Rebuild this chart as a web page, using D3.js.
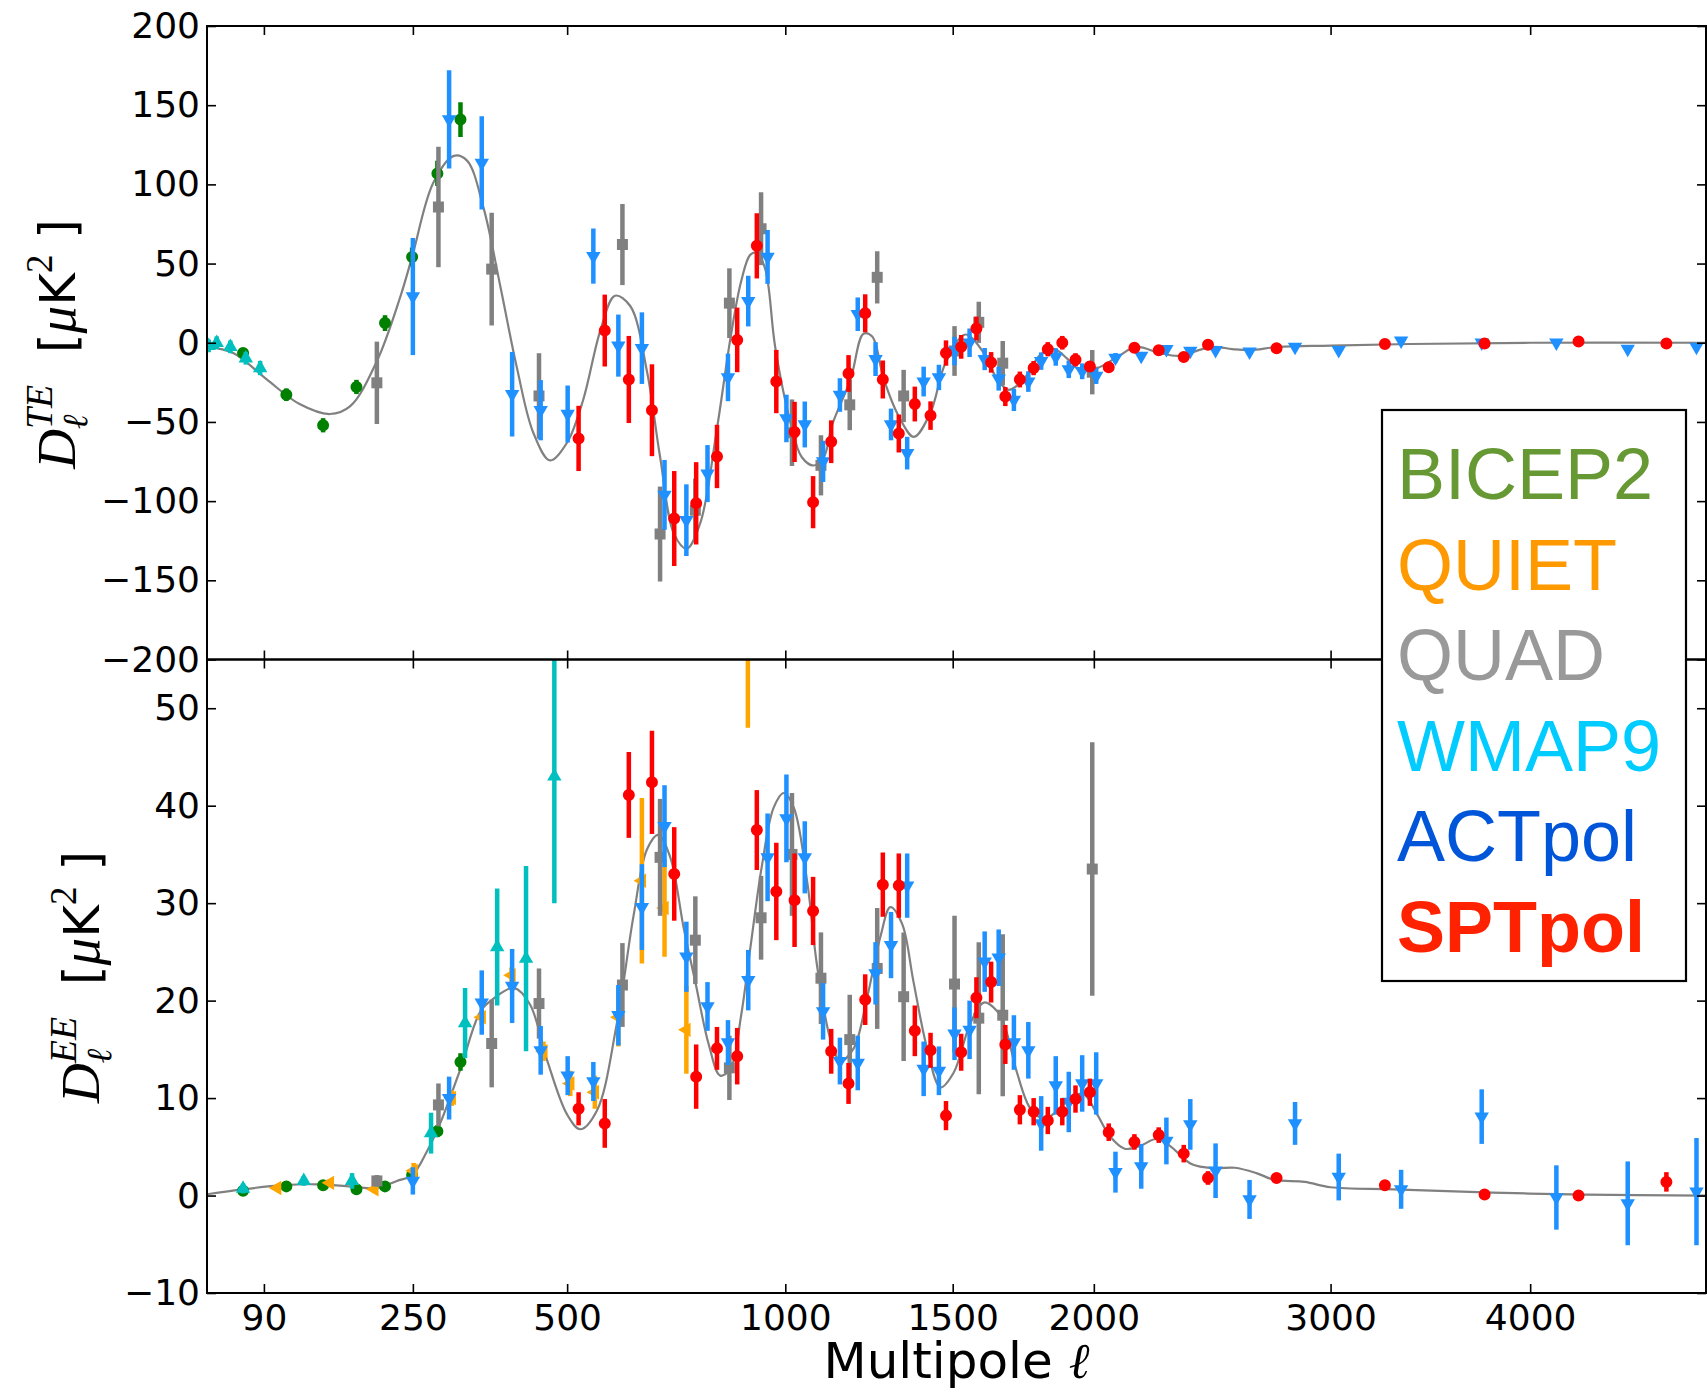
<!DOCTYPE html>
<html>
<head>
<meta charset="utf-8">
<script src="https://cdn.jsdelivr.net/npm/d3@7"></script>
<style>
  body { margin: 0; background: #fff; }
  svg { display: block; background: #fff; }
  .tick text { font-family: "DejaVu Sans", sans-serif; font-size: 36px; fill: #000; }
  .tick line { stroke: #000; stroke-width: 1.6; }
</style>
</head>
<body>
<svg id="chart" width="1707" height="1392"></svg>
<script>
// tick values
const ellTicks = [90, 250, 500, 1000, 1500, 2000, 3000, 4000];
const teTicks = [-200, -150, -100, -50, 0, 50, 100, 150, 200];
const eeTicks = [-10, 0, 10, 20, 30, 40, 50];

// legend
const legendNames = ['BICEP2', 'QUIET', 'QUAD', 'WMAP9', 'ACTpol', 'SPTpol'];
const legendColors = ['#669933', '#ff9900', '#999999', '#00ccff', '#0055d8', '#ff2200'];

// TE points: [ell, D_ell, error]
const bicepTE = [[74,-6.5,3],[109,-32.8,4],[144,-52.1,4.5],[180,-27.9,4.5],[214,12.4,5],[249,54.2,6],[284,106.9,8],[318,140.9,11]];
const quadTE = [[204,-25.3,26],[285.5,85.7,38],[367,46.5,35.6],[448,-33.6,27],[610.5,62,25.6],[692,-120.8,30],[773,-105.8,20],[855.5,25,22],[936,72,23],[1018,-56.8,21],[1098,-77.4,19],[1180.5,-39.2,16],[1262,41.3,16.5],[1343,-33.6,16.5],[1506,-5.2,15.7],[1587,12.9,13],[1669,-12.9,14],[1994,-18.6,14]];
const wmapTE = [[51,-2,4],[56,0,4],[65,-2.6,4],[76,-9.8,4],[87,-16,4.5]];
const actTE = [[250,29.2,37],[301,141,31],[351,113.6,29.4],[401,-32.5,26.7],[451,-42.6,19],[501,-45,18],[551,54.7,17.4],[602,-1.8,19.6],[652,-3.4,22.6],[702,-96,22],[752,-112,22.6],[802,-82.6,18],[852,-21.9,15],[903,26.3,16],[953,54.2,17],[1003,-47.8,15],[1053,-51.6,14.5],[1104,-74.9,13],[1152,-33,10.6],[1204,18,10.6],[1257,-10.3,10.7],[1304,-51.6,10],[1354,-69.7,10.3],[1406,-24.5,9.4],[1455,-21.9,8],[1506,-5.2,9],[1556,0,9],[1607,-10.3,7],[1655,-22.7,7.5],[1708,-36.1,7],[1759,-24.5,6.5],[1805,-11.6,5.5],[1858,-9,5.5],[1906,-16.8,5.5],[1956,-18,5],[2009,-21,5],[2083,-9.5,3],[2184,-8.3,2.5],[2285,-4.1,2],[2383,-5.2,2],[2489,-4.7,2],[2635,-5.7,1.5],[2837,-2.6,1.5],[3038,-4.7,1.5],[3337,1.3,1.5],[3744,0,1],[4142,0,1],[4541,-3.9,1],[4943,-2.6,1]];
const sptTE = [[522,-60.4,20.6],[574,7.7,22.7],[624,-23.2,27.5],[674,-42.6,29],[724,-111,30],[775,-101.4,26],[825,-71.8,20],[875,1.8,20.4],[925,61.2,20.6],[976,-24.5,20],[1025,-56.3,19],[1076,-100.7,16.5],[1127,-62.5,13.5],[1177,-19.4,11.6],[1226,18.6,12],[1279,-23.2,12],[1328,-57.3,12],[1378,-38.7,11],[1428,-46,9],[1478,-6.5,8],[1528,-2.6,7.5],[1579,9,7.5],[1629,-12.4,6.5],[1678,-34,6],[1729,-23.2,5],[1778,-16,4.5],[1829,-4.1,4.5],[1882,0,4.3],[1931,-10.8,4.2],[1985,-15,3.5],[2057,-15.5,3],[2157,-3.1,2.5],[2254,-4.7,2.2],[2356,-9,2],[2457,-1.3,2],[2754,-3.4,1.5],[3258,-0.8,1],[3759,-0.5,1],[4264,0.8,1],[4765,-0.5,1]];

// EE points: [ell, D_ell, error]
const bicepEE = [[74,0.5,0.3],[109,0.94,0.4],[144,1.06,0.4],[180,0.64,0.4],[214,0.94,0.4],[249,2.1,0.5],[284,6.6,0.6],[318,13.7,0.9]];
const quietEE = [[101,0.77,0.3],[151,1.3,0.4],[201,0.64,0.4],[251,2.55,0.8],[305,10,0.8],[351,18.3,0.8],[400,22.6,0.8],[456,14.8,1],[506,11.5,1.3],[554,10.6,1.7],[602,18.3,3],[652,32.3,8.5],[702,29.5,5],[752,17,4.5],[902,62,14]];
const quadEE = [[204,1.5,0.6],[285.5,9.3,2.2],[367,15.6,4.5],[448,19.7,3.6],[610.5,21.6,4.3],[692,34.7,6],[773,26.2,4.5],[855.5,13.1,3.3],[936,28.5,4.3],[1018,35,6.3],[1098,22.3,4.7],[1180.5,16,4.6],[1262,23.3,6.2],[1343,20.4,6.6],[1506,21.7,7],[1587,18.2,7.8],[1669,18.5,8.3],[1994,33.5,13]];
const wmapEE = [[74,0.72,0.5],[125,1.5,0.5],[175,1.5,0.8],[275,6.4,2.1],[325,17.7,3.6],[376,25.5,6],[425,24.3,9.5],[476,43,13]];
const actEE = [[250,1.5,1.4],[301,10,2.2],[351,19.8,3.3],[401,21.5,3.8],[451,14.9,2.5],[501,12.3,2],[551,11.7,2],[602,18.5,3.1],[652,29.6,4.4],[702,37.9,4.2],[752,24.5,3.6],[802,19.4,2.5],[852,15.7,2.3],[903,22.1,3.1],[953,34.7,4.5],[1003,38.7,4.5],[1053,34.7,3.7],[1104,18.9,2.9],[1152,13.8,2.4],[1204,13.6,2.8],[1257,22.8,3.2],[1304,25.7,3.4],[1354,31.8,3.3],[1406,13,2.8],[1455,12.8,2.5],[1506,16.6,2.7],[1556,17,3],[1607,24,3.1],[1655,24.4,2.9],[1708,15.7,2.8],[1759,14.9,2.9],[1805,7.4,2.8],[1858,11.3,3],[1906,9.6,3.1],[1956,11.5,2.9],[2009,11.5,3.2],[2083,2.4,2.1],[2184,3,2.3],[2285,5.6,2.4],[2383,7.3,2.6],[2489,2.55,2.8],[2635,-0.4,2],[2837,7.4,2.2],[3038,1.9,2.4],[3337,0.64,2],[3744,8.1,2.8],[4142,-0.2,3.3],[4541,-0.8,4.3],[4943,0.4,5.5]];
const sptEE = [[522,8.9,1.7],[574,7.4,2.5],[624,41.1,4.4],[674,42.4,5.3],[724,33,4.8],[775,12.2,3.3],[825,15.1,2.2],[875,14.3,2.9],[925,37.5,4.1],[976,31.2,5],[1025,30.3,4.8],[1076,29.2,3.5],[1127,14.8,2.3],[1177,11.5,2.1],[1226,20.1,2.6],[1279,31.9,3.3],[1328,31.8,3.3],[1378,16.9,2.6],[1428,14.9,1.8],[1478,8.2,1.5],[1528,14.7,1.9],[1579,20.3,2.1],[1629,21.9,2.1],[1678,15.5,2],[1729,8.8,1.5],[1778,8.6,1.4],[1829,7.7,1.4],[1882,8.6,1.4],[1931,9.9,1.4],[1985,10.6,1.4],[2057,6.5,0.9],[2157,5.5,0.8],[2254,6.2,0.8],[2356,4.3,0.9],[2457,1.8,0.7],[2754,1.8,0.4],[3258,1.06,0.4],[3759,0.1,0.4],[4264,0,0.5],[4765,1.4,1]];

// best-fit model curves: [ell, D_ell]
const theoryTE = [[50,-2.6],[67,-6.5],[92,-23],[121,-38.7],[151,-45],[173,-40],[204,-11.6],[233,28.4],[249,54.2],[278,100.8],[308,118],[328,115],[354,85],[381,36],[409,-15.5],[438,-57],[468,-74.3],[500,-63],[531,-36],[565,7.7],[595,29.7],[627,23.2],[663,-18],[692,-72],[724,-121],[753,-130],[785,-113.6],[825,-54],[858,2.6],[885,38.8],[908,55.5],[925,56.8],[947,46.5],[973,-2.6],[1014,-50.4],[1045,-72.3],[1078,-77.5],[1106,-72.3],[1130,-51.7],[1183,-23],[1221,5.7],[1247,3.9],[1282,-23],[1328,-46.5],[1375,-59.4],[1428,-44],[1476,-13],[1542,5.2],[1604,-6.5],[1650,-23],[1690,-29.7],[1743,-23],[1800,-8],[1850,-3.9],[1900,-10],[1950,-17.6],[2013,-16],[2090,-9],[2164,-2.6],[2258,-6.5],[2337,-8.3],[2436,-3.9],[2485,-2.6],[2560,-4],[2638,-4.7],[2762,-2.6],[3000,-1.8],[3380,-0.8],[4000,0],[5000,0]];
const theoryEE = [[50,0.13],[74,0.64],[106,1.06],[138,1.15],[173,0.94],[204,0.77],[229,1.5],[249,2.1],[269,4.5],[288,7.4],[318,13],[349,18.9],[370,20.2],[404,21.3],[432,19.6],[462,14],[500,8.3],[525,6.8],[558,8.7],[599,17.7],[634,28.7],[663,35.5],[688,37],[715,34.7],[746,27.4],[773,21.9],[805,15.5],[833,12.3],[858,13],[885,18.5],[908,25.3],[938,33.8],[969,39.8],[996,41.3],[1023,39.8],[1060,32.1],[1087,23.6],[1125,16],[1153,13.8],[1192,15.1],[1231,20.2],[1272,26.6],[1302,29.6],[1338,27.9],[1374,21.9],[1417,15.1],[1460,11.1],[1503,12.6],[1559,17.7],[1604,19.8],[1650,18.9],[1678,17.2],[1719,12.6],[1767,8.9],[1815,7.9],[1864,8.7],[1919,10.2],[1962,10.4],[2013,8.3],[2064,6],[2119,4.8],[2180,5.1],[2244,5.8],[2299,5.1],[2390,3.2],[2488,2.8],[2571,2.85],[2665,2.3],[2746,1.6],[2881,1.4],[3000,0.85],[3300,0.64],[3800,0.3],[4300,0.1],[5000,0]];

const L = 207, R = 1706, T = 26, M = 659.5, B = 1293;

const svg = d3.select('#chart');

const x = d3.scalePow().exponent(0.5).domain([50, 5000]).range([L, R]);
const yTE = d3.scaleLinear().domain([-200, 200]).range([M, T]);
const yEE = d3.scaleLinear().domain([-10, 55]).range([B, M]);

const defs = svg.append('defs');
defs.append('clipPath').attr('id', 'clipTE').append('rect')
    .attr('x', L).attr('y', T).attr('width', R - L).attr('height', M - T);
defs.append('clipPath').attr('id', 'clipEE').append('rect')
    .attr('x', L).attr('y', M).attr('width', R - L).attr('height', B - M);

function drawAxes(y, top, bottom, yTicks, showX) {
    svg.append('g').attr('transform', `translate(${L},0)`)
        .call(d3.axisLeft(y).tickValues(yTicks).tickSize(-9).tickPadding(7))
        .call(g => g.select('.domain').remove());
    svg.append('g').attr('transform', `translate(${R},0)`)
        .call(d3.axisRight(y).tickValues(yTicks).tickSize(-9).tickFormat(''))
        .call(g => g.select('.domain').remove());
    svg.append('g').attr('transform', `translate(0,${top})`)
        .call(d3.axisTop(x).tickValues(ellTicks).tickSize(-9).tickFormat(''))
        .call(g => g.select('.domain').remove());
    const bx = d3.axisBottom(x).tickValues(ellTicks).tickSize(-9).tickPadding(11)
        .tickFormat(showX ? d3.format('d') : '');
    svg.append('g').attr('transform', `translate(0,${bottom})`)
        .call(bx)
        .call(g => g.select('.domain').remove());
    svg.append('rect').attr('x', L).attr('y', top).attr('width', R - L).attr('height', bottom - top)
        .attr('fill', 'none').attr('stroke', '#000').attr('stroke-width', 2);
}

const shapes = {
    circle: { type: d3.symbolCircle, size: 113, rot: 0 },
    square: { type: d3.symbolSquare, size: 121, rot: 0 },
    up: { type: d3.symbolTriangle, size: 90, rot: 0 },
    down: { type: d3.symbolTriangle, size: 90, rot: 180 },
    left: { type: d3.symbolTriangle, size: 90, rot: -90 }
};

function drawSeries(g, data, y, color, shape) {
    g.selectAll(null).data(data).enter().append('line')
        .attr('x1', d => x(d[0])).attr('x2', d => x(d[0]))
        .attr('y1', d => y(d[1] - d[2])).attr('y2', d => y(d[1] + d[2]))
        .attr('stroke', color).attr('stroke-width', 4.5);
    const s = shapes[shape];
    g.selectAll(null).data(data).enter().append('path')
        .attr('d', d3.symbol().type(s.type).size(s.size))
        .attr('transform', d => `translate(${x(d[0])},${y(d[1])}) rotate(${s.rot})`)
        .attr('fill', color);
}

function drawPanel(clip, y, theory, series) {
    const g = svg.append('g').attr('clip-path', `url(#${clip})`);
    g.append('path').datum(theory)
        .attr('d', d3.line().x(d => x(d[0])).y(d => y(d[1])).curve(d3.curveCatmullRom.alpha(0.5)))
        .attr('fill', 'none').attr('stroke', '#808080').attr('stroke-width', 2.2);
    series.forEach(s => drawSeries(g, s[0], y, s[1], s[2]));
}

drawPanel('clipTE', yTE, theoryTE, [
    [bicepTE, '#008000', 'circle'],
    [quadTE, '#808080', 'square'],
    [wmapTE, '#00bfbf', 'up'],
    [actTE, '#1e90ff', 'down'],
    [sptTE, '#ff0000', 'circle']
]);
drawPanel('clipEE', yEE, theoryEE, [
    [bicepEE, '#008000', 'circle'],
    [quietEE, '#ffa500', 'left'],
    [quadEE, '#808080', 'square'],
    [wmapEE, '#00bfbf', 'up'],
    [actEE, '#1e90ff', 'down'],
    [sptEE, '#ff0000', 'circle']
]);

drawAxes(yTE, T, M, teTicks, false);
drawAxes(yEE, M, B, eeTicks, true);

// text made of pieces (math style labels)
function pieceLabel(parent, pieces) {
    const inner = parent.append('g');
    let cx = 0, lastStart = 0;
    pieces.forEach(p => {
        const start = p.stack ? lastStart : cx;
        const t = inner.append('text')
            .attr('x', start).attr('y', p.dy || 0)
            .attr('font-family', p.fam).attr('font-size', p.size)
            .attr('font-style', p.it ? 'italic' : 'normal')
            .attr('fill', '#000')
            .text(p.t);
        const w = t.node().getComputedTextLength();
        if (p.stack) cx = Math.max(cx, start + w);
        else { lastStart = start; cx = start + w; }
    });
    inner.attr('transform', `translate(${-cx / 2},0)`);
}

const serif = '"Liberation Serif", serif';
const sans = '"DejaVu Sans", sans-serif';
function yLabelPieces(sup) {
    return [
        { t: 'D', fam: serif, it: true, size: 55 },
        { t: sup, fam: serif, it: true, size: 38, dy: -23 },
        { t: 'ℓ', fam: '"DejaVu Serif", serif', it: true, size: 35, dy: 12, stack: true },
        { t: '\u00a0\u00a0[', fam: sans, size: 50 },
        { t: 'μ', fam: serif, it: true, size: 55 },
        { t: 'K', fam: sans, size: 50 },
        { t: '2', fam: serif, size: 37, dy: -23 },
        { t: '\u00a0]', fam: sans, size: 50 }
    ];
}
pieceLabel(svg.append('g').attr('transform', 'translate(75,344) rotate(-90)'), yLabelPieces('TE'));
pieceLabel(svg.append('g').attr('transform', 'translate(99,977) rotate(-90)'), yLabelPieces('EE'));

pieceLabel(svg.append('g').attr('transform', `translate(${(L + R) / 2},1378)`), [
    { t: 'Multipole\u00a0', fam: sans, size: 50 },
    { t: 'ℓ', fam: '"DejaVu Serif", serif', it: true, size: 50 }
]);

// legend
const lg = svg.append('g');
lg.append('rect').attr('x', 1382).attr('y', 410).attr('width', 304).attr('height', 571)
    .attr('fill', '#fff').attr('stroke', '#000').attr('stroke-width', 2.2);
lg.selectAll(null).data(legendNames).enter().append('text')
    .attr('x', 1397).attr('y', (d, i) => 499 + i * 90.5)
    .attr('font-family', '"Liberation Sans", Arial, sans-serif')
    .attr('font-size', 72)
    .attr('font-weight', (d, i) => i === 5 ? 'bold' : 'normal')
    .attr('fill', (d, i) => legendColors[i])
    .text(d => d);
</script>
</body>
</html>
